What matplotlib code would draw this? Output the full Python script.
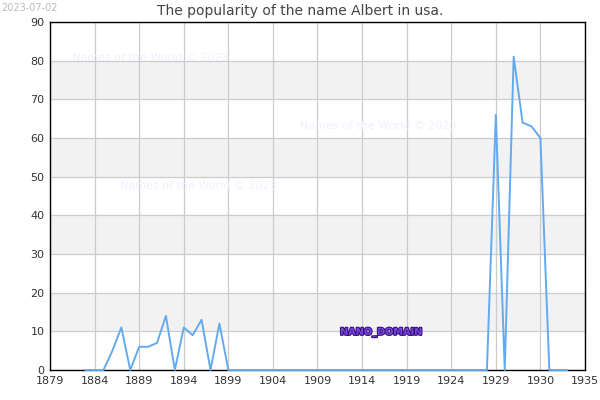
import numpy as np
import matplotlib.pyplot as plt
import matplotlib.patheffects as pe

# data
years = list(range(1883, 1938))
counts = [0, 0, 0, 5, 11, 0, 6, 6, 7, 14, 0, 11, 9, 13, 0, 12, 0] + [0] * 29 + \
         [66, 0, 81, 64, 63, 60, 0, 0, 0]
tick_years = list(range(1879, 1940, 5))
tick_labels = ['1879', '1884', '1889', '1894', '1899', '1904', '1909', '1914',
               '1919', '1924', '1929', '1930', '1935']

fig = plt.figure(figsize=(6, 4), dpi=100)
ax = fig.add_axes([50 / 600, 30 / 400, 535 / 600, 348 / 400])

# alternating bands
for lo in range(10, 90, 20):
    ax.axhspan(lo, lo + 10, color='#f2f2f2', zorder=0, lw=0)

ax.plot(years, counts, color='#64aaf0', lw=1.4, zorder=5, clip_on=False)

ax.set_xlim(1879, 1939)
ax.set_ylim(0, 90)
ax.set_xticks(tick_years)
ax.set_xticklabels(tick_labels)
ax.set_yticks(range(0, 91, 10))
ax.tick_params(labelsize=8, colors='#333333', length=0, pad=4)
ax.grid(True, color='#cccccc', lw=0.9, zorder=1)
ax.set_axisbelow(True)
for s in ax.spines.values():
    s.set_color('black')
    s.set_linewidth(1)
    s.set_zorder(2.5)

fig.text(0.5, 0.972, 'The popularity of the name Albert in usa.', ha='center',
         va='center', fontsize=10, color='#444444')
fig.text(0.002, 0.993, '2023-07-02', ha='left', va='top', fontsize=7,
         color='#bbbbbb')

wm = dict(fontsize=8, color='#f0f0ff', zorder=4)
fig.text(72 / 600, 1 - 58 / 400, 'Names of the World © 2023', va='center', **wm)
fig.text(300 / 600, 1 - 126 / 400, 'Names of the World © 2023', va='center', **wm)
fig.text(120 / 600, 1 - 186 / 400, 'Names of the World © 2023', va='center', **wm)

fig.text(381 / 600, 1 - 332 / 400, 'NANO_DOMAIN', ha='center', va='center',
         fontsize=7, color='#7744dd', fontweight='bold',
         path_effects=[pe.withStroke(linewidth=1.5, foreground='#331177')])

fig.savefig('out.png', dpi=100)
